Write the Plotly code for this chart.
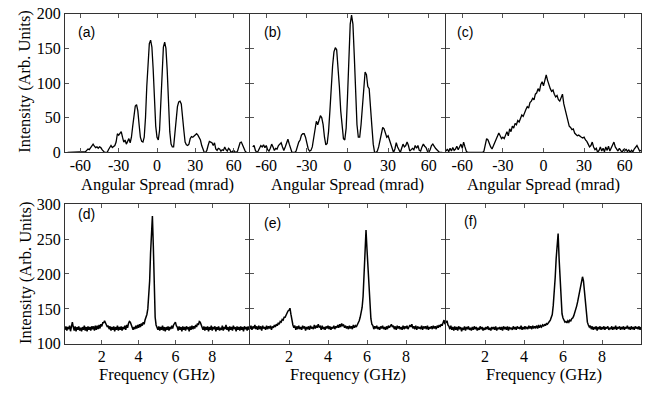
import plotly.graph_objects as go

# ---------------- data ----------------
ang_a = list(range(-70, 71))
int_a = [0, 0, 0, 0, 0, 0, 0, 0, 0, 0, 0, 0, 0, 0,
         1, 3, 5, 4, 7, 10, 12, 9, 7, 8, 6, 8, 7, 4, 2, 0,
         0, 0, 4, 8, 10, 7, 9, 10, 15, 27, 25, 28, 30, 22, 15, 18, 12, 16, 20, 14,
         22, 38, 55, 67, 69, 60, 40, 22,
         16, 15, 22, 50, 95, 135, 157, 162, 152, 120, 75, 38, 22, 18, 32, 75, 125, 152,
         159, 150, 118, 70, 30, 12, 8, 8, 25, 50, 66, 73, 74, 70, 55, 32, 15, 11,
         10, 12, 20, 23, 22, 24, 26, 27, 25, 22, 18, 10, 4, 0, 0, 3, 10, 16, 15, 14,
         10, 14, 5, 3, 6, 5, 2, 4, 3, 8, 4, 2, 6, 4, 0, 2, 3, 1, 0, 2, 8, 14, 15, 10,
         5, 2, 0]

ang_b = list(range(-70, 71))
int_b = [8, 10, 3, 0, 2, 6, 10, 8, 11, 7, 10, 4, 2, 6, 12, 8, 3, 6, 5, 10,
         12, 14, 8, 3, 8, 15, 19, 12, 4, 0,
         0, 0, 2, 10, 15, 18, 25, 27, 27, 22, 12, 5, 2, 3, 8, 20, 35, 45, 40, 48,
         53, 50, 40, 22, 11,
         13, 30, 60, 95, 125, 145, 151, 148, 125, 95, 60, 35, 20, 18, 35, 80, 140, 185,
         198, 185, 140, 85, 40, 22, 22, 40, 70, 100, 116, 112, 95, 92, 70, 38, 12, 0,
         0, 2, 8, 18, 30, 36, 34, 28, 22, 24, 18, 10, 3, 0, 5, 14, 8, 3, 0, 6,
         12, 8, 10, 15, 10, 2, 4, 6, 4, 10, 6, 10, 3, 2, 8, 12, 9, 7, 2, 0,
         4, 10, 12, 8, 6, 4, 2, 0, 0, 0]

ang_c = list(range(-72, 73))
int_c = [2, 5, 1, 6, 2, 7, 3, 5, 9, 4, 8, 12, 6, 15, 8, 2,
         0, 0, 0, 0, 0, 0, 0, 0, 0, 0, 0, 0,
         2, 12, 20, 18, 12, 8, 5, 10, 14, 18, 22, 28, 24, 20, 22, 20, 25, 30, 24, 34,
         30, 38, 35, 42,
         40, 46, 44, 50, 54, 52, 58, 62, 66, 64, 72, 74, 78, 76, 84, 86, 92, 88, 98,
         102, 96,
         106, 112, 104, 96, 92, 88, 90, 84, 80, 82, 76, 74, 78, 84, 70, 62, 52, 42, 38,
         36, 33, 34, 28, 26, 24, 25, 23, 22, 21, 22, 18, 16, 12, 8, 10, 15, 8, 4, 6, 0,
         3, 8, 2, 6, 1, 8, 3, 9, 2, 6, 10, 15, 8, 5, 2, 6, 3, 0, 4, 2, 5, 1, 4, 0, 3,
         1, 5, 8, 10, 6, 2, 3]

freq = [round(i * 0.05, 2) for i in range(201)]
spec_d = [120, 125, 119, 124, 121, 126, 118, 127, 131, 124,
          119, 125, 118, 124, 120, 125, 119, 123, 118, 124,
          120, 126, 119, 124, 118, 125, 120, 124, 119, 125,
          121, 125, 119, 126, 120, 126, 121, 127, 122, 128,
          125, 130, 130, 133, 129, 128, 124, 126, 121, 125,
          119, 124, 120, 125, 118, 124, 120, 126, 119, 124,
          120, 125, 119, 124, 121, 126, 120, 127, 123, 129,
          132, 131, 126, 125, 120, 124, 121, 126, 122, 127,
          123, 128, 124, 129, 126, 131, 128, 134, 137, 142,
          150, 165, 190, 230, 262, 283, 240, 175, 138, 127,
          124, 120, 125, 119, 124, 120, 126, 119, 124, 118,
          124, 120, 125, 119, 124, 121, 126, 122, 127, 129,
          131, 126, 124, 119, 125, 120, 124, 118, 125, 120,
          124, 119, 125, 121, 124, 118, 125, 120, 126, 121,
          125, 122, 127, 124, 129, 127, 132, 131, 127, 125,
          120, 125, 119, 124, 120, 125, 118, 124, 120, 126,
          119, 124, 121, 125, 118, 124, 120, 125, 119, 123,
          120, 126, 119, 124, 121, 127, 120, 124, 118, 125,
          120, 124, 119, 126, 121, 124, 118, 125, 120, 124,
          119, 125, 120, 124, 118, 125, 121, 124, 119, 125, 120]
spec_e = [121, 126, 120, 125, 122, 127, 121, 125, 120, 126,
          121, 125, 119, 126, 122, 124, 120, 126, 121, 125,
          122, 126, 120, 125, 123, 127, 124, 128, 126, 130,
          128, 132, 131, 135, 134, 138, 138, 142, 143, 147,
          148, 151, 142, 133, 127, 123, 126, 120, 125, 121,
          126, 121, 124, 120, 126, 122, 125, 119, 124, 121,
          125, 120, 126, 122, 124, 121, 127, 122, 126, 123,
          128, 124, 125, 120, 126, 121, 124, 120, 125, 122,
          126, 121, 125, 120, 124, 122, 126, 121, 125, 123,
          127, 123, 128, 124, 129, 126, 127, 123, 126, 122,
          125, 121, 126, 122, 125, 121, 127, 123, 126, 124,
          127, 129, 133, 138, 144, 152, 168, 195, 225, 263,
          235, 205, 175, 150, 136, 128, 126, 121, 125, 122,
          126, 121, 124, 120, 125, 122, 126, 121, 124, 120,
          125, 121, 126, 123, 127, 128, 124, 126, 121, 125,
          120, 126, 122, 125, 121, 124, 120, 126, 121, 125,
          122, 126, 121, 125, 127, 124, 128, 122, 125, 121,
          126, 120, 125, 122, 124, 121, 126, 120, 125, 122,
          125, 121, 126, 120, 124, 122, 125, 121, 126, 122,
          125, 121, 126, 123, 127, 124, 128, 126, 131, 134, 128]
spec_f = [130, 133, 127, 125, 121, 126, 120, 124, 119, 125,
          120, 124, 119, 125, 121, 124, 118, 123, 120, 125,
          119, 124, 121, 125, 120, 123, 119, 124, 120, 125,
          121, 124, 119, 123, 120, 125, 121, 124, 119, 123,
          120, 124, 121, 125, 120, 123, 119, 124, 121, 124,
          120, 125, 119, 123, 121, 124, 120, 124, 119, 125,
          121, 124, 120, 125, 119, 124, 121, 123, 120, 125,
          121, 124, 120, 125, 122, 124, 121, 126, 120, 124,
          121, 125, 122, 124, 121, 126, 122, 125, 121, 126,
          122, 125, 123, 126, 122, 127, 123, 126, 124, 127,
          125, 128, 126, 129, 128, 131, 132, 134, 137, 142,
          155, 172, 195, 222, 248, 258, 222, 190, 158, 143,
          137, 134, 131, 132, 130, 133, 131, 134, 133, 136,
          137, 140, 144, 149, 154, 160, 167, 175, 184, 191,
          196, 190, 174, 152, 139, 131, 127, 124, 126, 121,
          125, 120, 124, 121, 125, 119, 124, 121, 125, 120,
          124, 121, 125, 120, 124, 122, 125, 120, 123, 121,
          125, 120, 124, 121, 126, 120, 124, 122, 125, 120,
          124, 121, 125, 120, 124, 122, 126, 121, 124, 120,
          125, 121, 124, 120, 125, 122, 124, 121, 125, 120, 124]

ang_ticks = [-60, -30, 0, 30, 60]
ang_tick_text = ["-60", "-30", "0", "30", "60"]
freq_ticks = [2, 4, 6, 8]
top_yticks = [0, 50, 100, 150, 200]
bot_yticks = [100, 150, 200, 250, 300]
panel_labels = ["(a)", "(b)", "(c)", "(d)", "(e)", "(f)"]
xtitle_top = "Angular Spread (mrad)"
xtitle_bot = "Frequency (GHz)"
ytitle = "Intensity (Arb. Units)"

# ---------------- layout geometry (pixels) ----------------
W, H = 647, 393
cols = [(65, 249), (250, 445), (446, 641)]
top_rows = (6, 151)
bot_rows = (205, 351)


def px(x):
    return x / W


def py(y):
    return 1 - y / H


SERIF = "Liberation Serif, Times New Roman, DejaVu Serif, serif"
SANS = "Liberation Sans, Arial, sans-serif"

fig = go.Figure()
series = [(ang_a, int_a), (ang_b, int_b), (ang_c, int_c),
          (freq, spec_d), (freq, spec_e), (freq, spec_f)]
for k, (xs, ys) in enumerate(series):
    n = k + 1
    fig.add_trace(go.Scatter(
        x=xs, y=ys, mode="lines",
        line=dict(color="black", width=1.3 if k < 3 else 1.5),
        xaxis="x" if n == 1 else f"x{n}",
        yaxis="y" if n == 1 else f"y{n}",
        showlegend=False, hoverinfo="skip"))

common = dict(showline=True, mirror="ticks", linecolor="#333333", linewidth=1,
              ticks="inside", ticklen=4, tickcolor="#555555", tickwidth=1,
              showgrid=False, zeroline=False,
              tickfont=dict(family=SERIF, size=16, color="black"))

layout = dict(width=W, height=H, margin=dict(l=0, r=0, t=0, b=0, pad=0),
              autosize=False,
              paper_bgcolor="white", plot_bgcolor="white", showlegend=False)
annotations = []
for k in range(6):
    n = k + 1
    c = k % 3
    top = k < 3
    x0, x1 = cols[c]
    y0, y1 = top_rows if top else bot_rows
    xa = dict(common, domain=[px(x0), px(x1)],
              anchor="y" if n == 1 else f"y{n}", ticklabelstandoff=-2)
    ya = dict(common, domain=[py(y1), py(y0)],
              anchor="x" if n == 1 else f"x{n}",
              showticklabels=(c == 0))
    if top:
        xa.update(range=[-72, 72], tickvals=ang_ticks, ticktext=ang_tick_text)
        ya.update(range=[0, 200], tickvals=top_yticks)
    else:
        xa.update(range=[0, 10], tickvals=freq_ticks)
        ya.update(range=[100, 300], tickvals=bot_yticks)
    layout["xaxis" if n == 1 else f"xaxis{n}"] = xa
    layout["yaxis" if n == 1 else f"yaxis{n}"] = ya

    # x-axis title
    annotations.append(dict(
        text=xtitle_top if top else xtitle_bot, xref="paper", yref="paper",
        x=px((x0 + x1) / 2), y=py(184 if top else 383),
        xanchor="center", yanchor="middle", showarrow=False,
        font=dict(family=SERIF, size=16.5, color="black")))

# y-axis titles
for yc in (77, 277):
    annotations.append(dict(
        text=ytitle, xref="paper", yref="paper", x=px(25), y=py(yc),
        xanchor="center", yanchor="middle", showarrow=False, textangle=-90,
        font=dict(family=SERIF, size=16.5, color="black")))

# panel labels
label_pos = [(86.5, 25), (272, 25), (465, 25), (86, 215), (272, 225), (470, 223)]
for lab, (lx, ly) in zip(panel_labels, label_pos):
    annotations.append(dict(
        text=lab, xref="paper", yref="paper", x=px(lx), y=py(ly),
        xanchor="center", yanchor="middle", showarrow=False,
        font=dict(family=SANS, size=14, color="black")))

layout["annotations"] = annotations
fig.update_layout(**layout)
fig.write_html(
    "out.html",
    config={"responsive": False, "displayModeBar": False},
    post_script="document.body.style.margin='0px';"
                "document.body.style.overflow='hidden';")
